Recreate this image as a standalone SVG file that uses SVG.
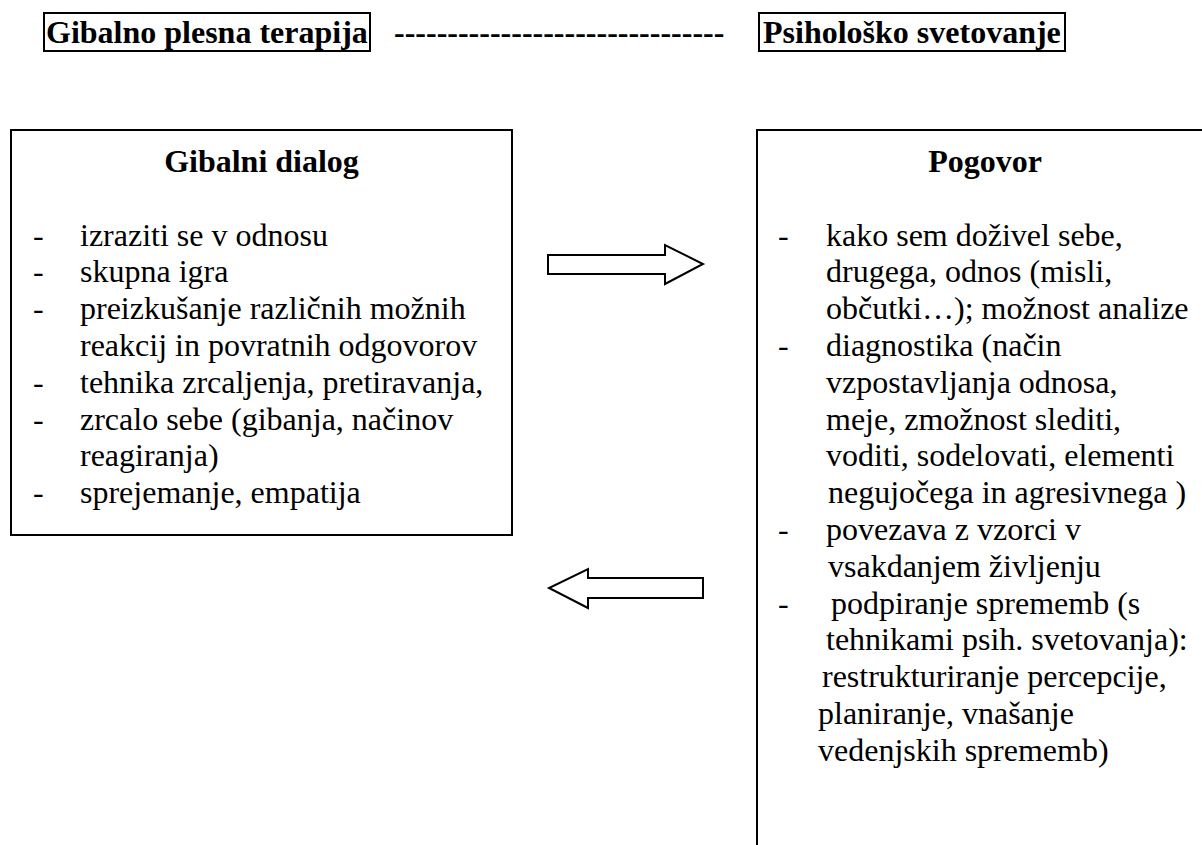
<svg xmlns="http://www.w3.org/2000/svg" width="1202" height="845" viewBox="0 0 1202 845">
<style>
text{font-family:'Liberation Serif','Times New Roman',serif;font-size:32px;fill:#000}
.b{font-weight:bold}
.box{fill:none;stroke:#000;stroke-width:2}
.arr{fill:#fff;stroke:#000;stroke-width:2;stroke-linejoin:miter}
</style>
<rect width="1202" height="845" fill="#fff"/>
<g id="title">
<rect class="box" x="44" y="13" width="326" height="38"/>
<text class="b" x="46" y="43">Gibalno plesna terapija</text>
<text class="b" x="394" y="43">-------------------------------</text>
<rect class="box" x="759" y="13" width="306" height="38"/>
<text class="b" x="763" y="43">Psihološko svetovanje</text>
</g>
<g id="node-gibalni">
<rect class="box" x="11" y="130" width="501" height="405"/>
<text class="b" x="261.5" y="172" text-anchor="middle">Gibalni dialog</text>
<text x="33" y="245.6">-</text><text x="80" y="245.6">izraziti se v odnosu</text>
<text x="33" y="282.4">-</text><text x="80" y="282.4">skupna igra</text>
<text x="33" y="319.2">-</text><text x="80" y="319.2">preizkušanje različnih možnih</text>
<text x="80" y="356">reakcij in povratnih odgovorov</text>
<text x="33" y="392.8">-</text><text x="80" y="392.8">tehnika zrcaljenja, pretiravanja,</text>
<text x="33" y="429.6">-</text><text x="80" y="429.6">zrcalo sebe (gibanja, načinov</text>
<text x="80" y="466.4">reagiranja)</text>
<text x="33" y="503.2">-</text><text x="80" y="503.2">sprejemanje, empatija</text>
</g>
<g id="node-pogovor">
<rect class="box" x="757" y="130" width="456" height="760"/>
<text class="b" x="985" y="172" text-anchor="middle">Pogovor</text>
<text x="778" y="245.6">-</text><text x="826" y="245.6">kako sem doživel sebe,</text>
<text x="826" y="282.4">drugega, odnos (misli,</text>
<text x="826" y="319.2">občutki…); možnost analize</text>
<text x="778" y="356">-</text><text x="826" y="356">diagnostika (način</text>
<text x="826" y="392.8">vzpostavljanja odnosa,</text>
<text x="826" y="429.6">meje, zmožnost slediti,</text>
<text x="826" y="466.4">voditi, sodelovati, elementi</text>
<text x="828" y="503.2">negujočega in agresivnega )</text>
<text x="778" y="540">-</text><text x="826" y="540">povezava z vzorci v</text>
<text x="828" y="576.8">vsakdanjem življenju</text>
<text x="778" y="613.6">-</text><text x="831" y="613.6">podpiranje sprememb (s</text>
<text x="826" y="650.4">tehnikami psih. svetovanja):</text>
<text x="822" y="687.2">restrukturiranje percepcije,</text>
<text x="818" y="724">planiranje, vnašanje</text>
<text x="818" y="760.8">vedenjskih sprememb)</text>
</g>
<g id="connectors">
<polygon class="arr" points="548,255 665,255 665,245 703,264 665,284 665,274 548,274"/>
<polygon class="arr" points="703,578 588,578 588,569 549,588 588,608 588,598 703,598"/>
</g>
</svg>
